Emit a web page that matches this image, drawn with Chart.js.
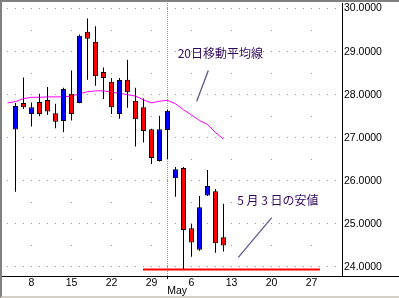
<!DOCTYPE html>
<html>
<head>
<meta charset="utf-8">
<script src="https://cdn.jsdelivr.net/npm/chart.js@4.4.1/dist/chart.umd.min.js"></script>
<style>
    html, body { margin: 0; padding: 0; background: #fff; }
    #frame {
        width: 399px; height: 298px; box-sizing: border-box;
        border-left: 2px solid #808080; border-top: 2px solid #808080;
        border-bottom: 2px solid #d4d0c8;
    }
    #chart { display: block; }
</style>
</head>
<body>
<div id="frame"><canvas id="chart" width="397" height="294"></canvas></div>
<script>
// trading days shown (2013)
const days = ['4/4', '4/5', '4/8', '4/9', '4/10', '4/11', '4/12', '4/15', '4/16', '4/17', '4/18', '4/19',
    '4/22', '4/23', '4/24', '4/25', '4/26', '4/29', '4/30', '5/1', '5/2', '5/3', '5/6', '5/7', '5/8', '5/9', '5/10'];
const opens  = [27.19, 27.81, 27.55, 27.83, 27.88, 27.57, 27.39, 28.02, 27.81, 29.46, 29.23, 28.53, 28.30, 27.55,
    28.35, 27.86, 27.71, 27.20, 26.46, 27.18, 26.06, 26.30, 24.90, 24.40, 25.66, 25.76, 24.69];
const highs  = [27.81, 28.40, 27.82, 28.02, 28.18, 27.79, 28.16, 28.56, 29.40, 29.77, 29.59, 28.63, 28.39, 28.39,
    28.81, 28.16, 27.91, 27.21, 27.51, 27.65, 26.32, 26.32, 25.00, 25.65, 26.25, 25.81, 25.47];
const lows   = [25.75, 27.67, 27.26, 27.50, 27.53, 27.22, 27.13, 27.40, 27.80, 28.35, 28.21, 27.90, 27.55, 27.44,
    27.70, 26.80, 26.89, 26.39, 26.45, 26.51, 25.63, 23.95, 24.24, 24.38, 25.65, 24.33, 24.36];
const closes = [27.74, 27.71, 27.71, 27.55, 27.61, 27.37, 28.13, 27.55, 29.37, 29.30, 28.43, 28.39, 27.71, 28.34,
    28.06, 27.43, 27.16, 26.53, 27.20, 27.63, 26.27, 24.86, 24.57, 25.39, 25.88, 24.55, 24.50];
// 20-day moving average, starting one session before the first candle (4/3)
const ma20 = [27.81, 27.84, 27.91, 27.94, 27.94, 27.95, 27.95, 27.95, 27.97, 28.02, 28.07, 28.09, 28.09, 28.06,
    28.03, 28.00, 27.97, 27.88, 27.81, 27.85, 27.87, 27.79, 27.65, 27.53, 27.40, 27.31, 27.12, 26.97];
const mayLow = 23.94;

const weekTicks = [2, 7, 12, 17, 22, 27, 32, 37];
const weekLabels = ['8', '15', '22', '29', '6', '13', '20', '27'];
const monthStart = 19;
const monthLabel = 'May';
const yMajor = [24, 25, 26, 27, 28, 29, 30];
const yMinor = [24.5, 25.5, 26.5, 27.5, 28.5, 29.5];

const notes = [
    { text: '20日移動平均線', x: 25.6, y: 28.97, from: [24.1, 28.56], to: [22.65, 27.85] },
    { text: '5 月 3 日の安値', x: 32.79, y: 25.556, from: [27.85, 24.225], to: [32.03, 25.145] }
];

const UP = '#0000ff';
const DOWN = '#ff0000';
const monthTickLabelAt = monthStart + 1.2;

const noteText = {
    id: 'noteText',
    afterDatasetsDraw(chart) {
        const { ctx, scales: { x, y }, chartArea } = chart;
        ctx.save();
        ctx.font = '12px "Noto Sans CJK JP"';
        ctx.fillStyle = '#330a5c';
        ctx.textAlign = 'center';
        ctx.textBaseline = 'middle';
        notes.forEach(n => ctx.fillText(n.text, x.getPixelForValue(n.x), y.getPixelForValue(n.y)));
        // x axis line runs on under the price scale
        ctx.strokeStyle = '#000';
        ctx.lineWidth = 1;
        ctx.beginPath();
        ctx.moveTo(chartArea.right, chartArea.bottom + 0.5);
        ctx.lineTo(chart.width, chartArea.bottom + 0.5);
        ctx.stroke();
        ctx.restore();
    }
};

const leaderSets = notes.map(n => ({
    type: 'line',
    data: [{ x: n.from[0], y: n.from[1] }, { x: n.to[0], y: n.to[1] }],
    borderColor: '#64558a',
    borderWidth: 1.3,
    pointRadius: 0,
    order: 0
}));

new Chart(document.getElementById('chart'), {
    type: 'bar',
    data: {
        datasets: [
            {
                type: 'line',
                data: ma20.map((v, i) => ({ x: i - 1, y: v })),
                borderColor: '#ff00ff',
                borderWidth: 1,
                pointRadius: 0,
                tension: 0,
                order: 5
            },
            {
                data: days.map((d, i) => ({ x: i, y: [lows[i], highs[i]] })),
                backgroundColor: '#000',
                borderWidth: 0,
                grouped: false,
                maxBarThickness: 1,
                order: 4
            },
            {
                data: days.map((d, i) => ({ x: i, y: [opens[i], closes[i]] })),
                backgroundColor: days.map((d, i) => closes[i] > opens[i] ? UP : DOWN),
                borderColor: '#000',
                borderWidth: 1,
                borderSkipped: false,
                grouped: false,
                maxBarThickness: 5,
                order: 3
            },
            {
                type: 'line',
                data: [{ x: 15.94, y: mayLow }, { x: 38.06, y: mayLow }],
                borderColor: '#ff0000',
                borderWidth: 2,
                pointRadius: 0,
                order: 1
            },
            ...leaderSets
        ]
    },
    options: {
        responsive: false,
        animation: false,
        events: [],
        layout: { padding: { top: 1 } },
        plugins: { legend: { display: false }, tooltip: { enabled: false } },
        scales: {
            x: {
                type: 'linear',
                min: -1.6875,
                max: 40.8125,
                offset: false,
                afterBuildTicks: scale => {
                    scale.ticks = [...weekTicks, monthStart, monthTickLabelAt]
                        .sort((a, b) => a - b)
                        .map(v => ({ value: v }));
                },
                afterFit: scale => {
                    scale.height = 20;
                    scale.paddingLeft = 0;
                    scale.paddingRight = 0;
                },
                ticks: {
                    autoSkip: false,
                    maxRotation: 0,
                    minRotation: 0,
                    padding: 0,
                    color: '#000',
                    font: { family: '"Liberation Sans", Arial, sans-serif', size: 10.5, lineHeight: '8px' },
                    callback: v => {
                        if (v === monthTickLabelAt) return ['', monthLabel];
                        const k = weekTicks.indexOf(v);
                        return k >= 0 ? weekLabels[k] : '';
                    }
                },
                grid: {
                    offset: false,
                    lineWidth: 1,
                    tickLength: 3,
                    color: c => c.tick && c.tick.value === monthStart ? '#999' : 'rgba(0,0,0,0)',
                    tickColor: c => c.tick && c.tick.value === monthStart ? '#000' : 'rgba(0,0,0,0)'
                },
                border: { display: true, color: '#000', width: 1, dash: [1, 1] }
            },
            y: {
                position: 'right',
                min: 23.791,
                max: 30.1295,
                beginAtZero: false,
                afterBuildTicks: scale => {
                    scale.ticks = [...yMajor, ...yMinor].sort((a, b) => a - b).map(v => ({ value: v }));
                },
                afterFit: scale => {
                    scale.width = 57;
                    scale.paddingTop = 0;
                    scale.paddingBottom = 0;
                },
                ticks: {
                    autoSkip: false,
                    padding: 2,
                    color: '#000',
                    font: { family: '"Liberation Sans", Arial, sans-serif', size: 10.5 },
                    callback: v => yMajor.includes(v) ? v.toFixed(4) : ''
                },
                grid: { drawTicks: false, color: '#999', lineWidth: 1 },
                border: {
                    display: true, color: '#000', width: 1,
                    dash: c => c.tick ? (yMajor.includes(c.tick.value) ? [1, 7] : [1, 39]) : [],
                    dashOffset: c => c.tick ? (yMajor.includes(c.tick.value) ? 3 : 11) : 0
                }
            }
        }
    },
    plugins: [noteText]
});
</script>
</body>
</html>
